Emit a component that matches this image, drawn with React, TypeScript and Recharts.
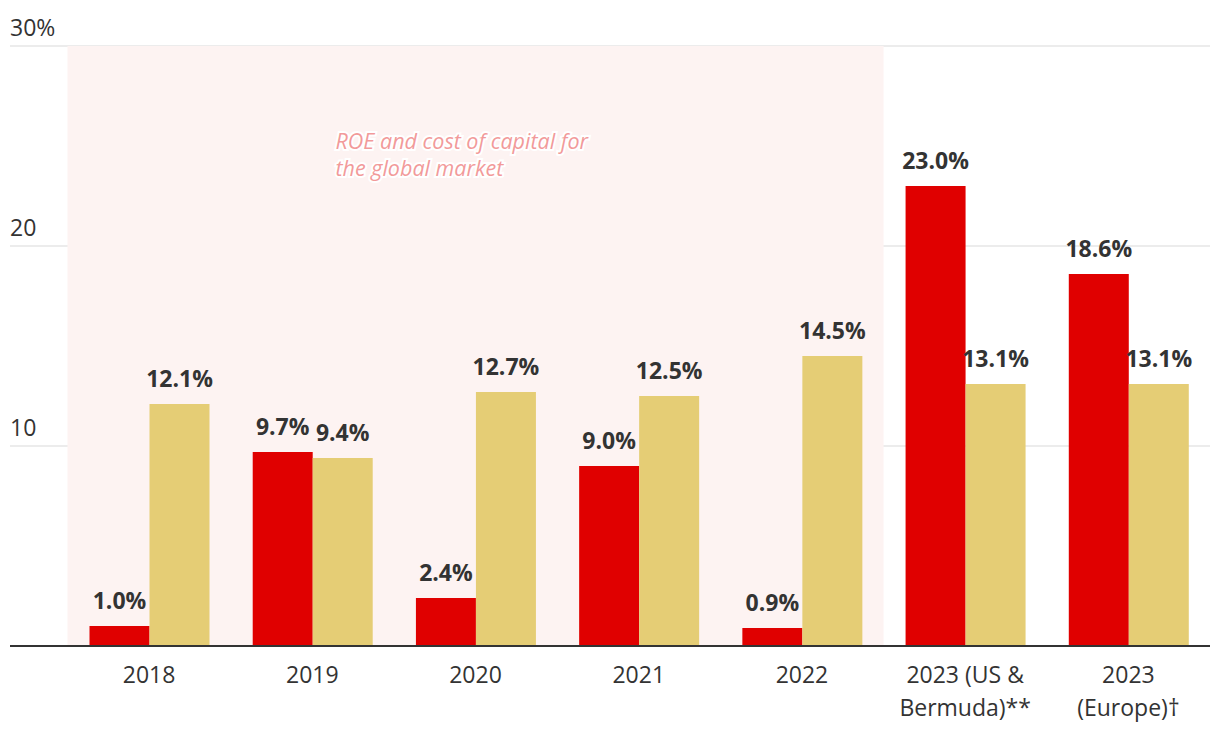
import { BarChart, Bar, XAxis, YAxis, CartesianGrid, ReferenceArea, LabelList } from "recharts"

const categories = ["2018", "2019", "2020", "2021", "2022", "2023 (US &\nBermuda)**", "2023\n(Europe)†"]
const roe = [1.0, 9.7, 2.4, 9.0, 0.9, 23.0, 18.6]
const costOfCapital = [12.1, 9.4, 12.7, 12.5, 14.5, 13.1, 13.1]
const yTicks = [0, 10, 20, 30]
const noteLines = ["ROE and cost of capital for", "the global market"]

const data = categories.map((name, i) => ({ name, roe: roe[i], coc: costOfCapital[i] }))

const RED = "#e00000"
const GOLD = "#e5cd75"
const TEXT = "#333333"

function XTick({ x, y, payload }: any) {
  const lines = String(payload.value).split("\n")
  return (
    <text x={x} y={y + 37} textAnchor="middle" fill={TEXT} fontSize={23}>
      {lines.map((l, i) => (
        <tspan key={i} x={x} dy={i === 0 ? 0 : 33}>
          {l}
        </tspan>
      ))}
    </text>
  )
}

function YTick({ y, payload }: any) {
  if (payload.value === 0) return null
  const label = payload.value === 30 ? "30%" : String(payload.value)
  return (
    <text x={2} y={y - 10} textAnchor="start" fill={TEXT} fontSize={23}>
      {label}
    </text>
  )
}

// note inside the shaded area, two separate lines with a white halo
function AreaNote({ viewBox }: any) {
  const { x, y } = viewBox
  return (
    <g>
      {noteLines.map((l, i) => (
        <text
          key={i}
          x={x + 268}
          y={y + 103 + i * 27}
          fill="#f29a9a"
          fontSize={21.5}
          fontStyle="italic"
          stroke="#ffffff"
          strokeWidth={4}
          paintOrder="stroke"
        >
          {l}
        </text>
      ))}
    </g>
  )
}

const pct = (v: any) => `${Number(v).toFixed(1)}%`

export default function App() {
  return (
    <div style={{ fontFamily: "'Open Sans', sans-serif" }}>
      <BarChart
        width={1204}
        height={726}
        data={data}
        margin={{ top: 38, right: 2, left: 1, bottom: 8 }}
        barGap={0}
        barSize={60}
      >
        <ReferenceArea x1="2018" x2="2022" y1={0} y2={30} fill="#fdf3f2" fillOpacity={1} label={AreaNote} />
        <CartesianGrid vertical={false} stroke="#ececec" strokeWidth={2} />
        <XAxis
          dataKey="name"
          padding={{ left: 57.5, right: 0 }}
          tickLine={false}
          tickSize={0}
          tickMargin={0}
          axisLine={{ stroke: "#333333", strokeWidth: 2 }}
          tick={<XTick />}
          height={80}
          interval={0}
        />
        <YAxis
          domain={[0, 30]}
          ticks={yTicks}
          width={1}
          axisLine={false}
          tickLine={false}
          tick={<YTick />}
          interval={0}
        />
        <Bar dataKey="roe" fill={RED} isAnimationActive={false}>
          <LabelList dataKey="roe" position="top" offset={17} formatter={pct} fill={TEXT} fontSize={23} fontWeight={700} />
        </Bar>
        <Bar dataKey="coc" fill={GOLD} isAnimationActive={false}>
          <LabelList dataKey="coc" position="top" offset={17} formatter={pct} fill={TEXT} fontSize={23} fontWeight={700} />
        </Bar>
      </BarChart>
    </div>
  )
}
